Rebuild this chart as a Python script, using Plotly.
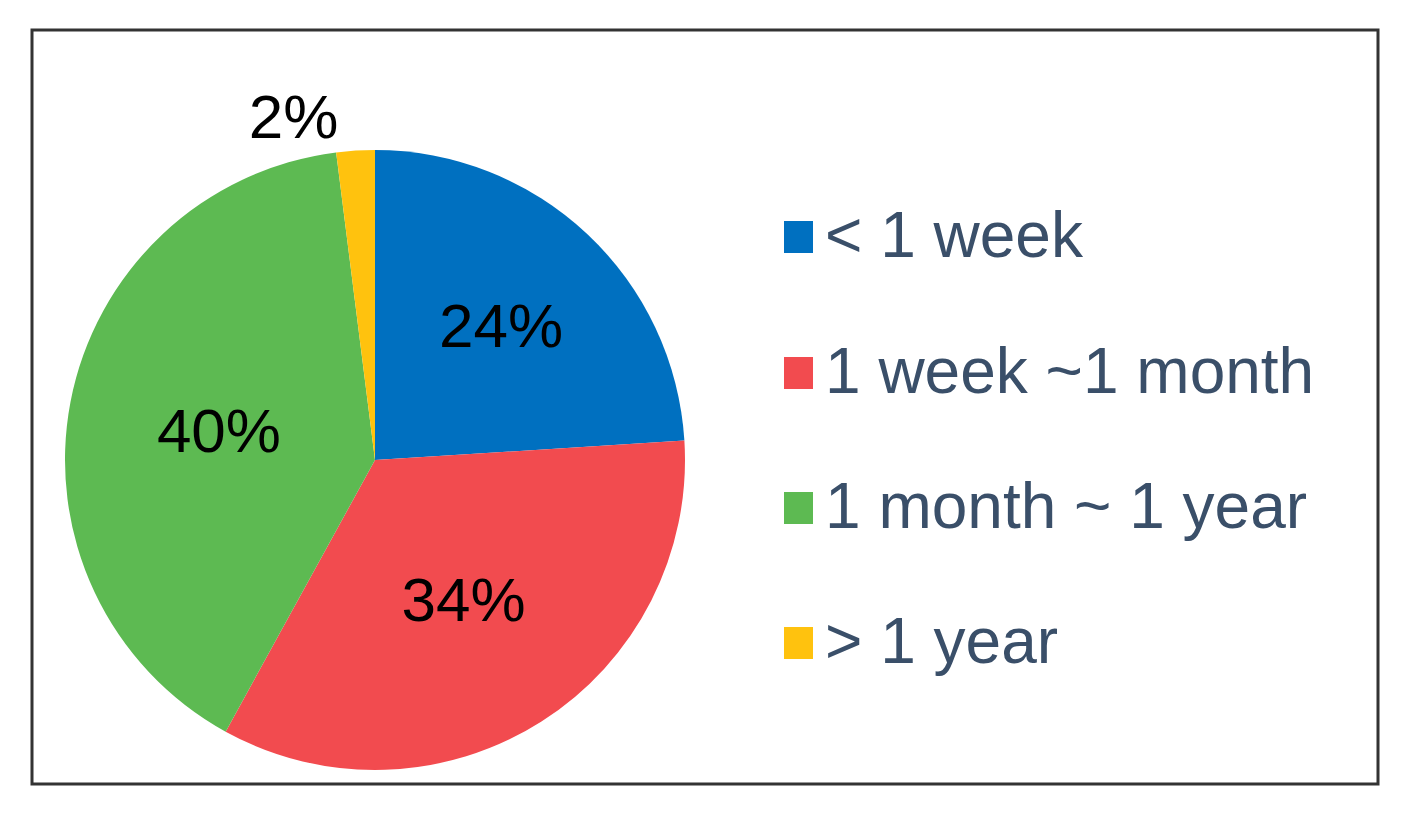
import plotly.graph_objects as go

labels = ["< 1 week", "1 week ~1 month", "1 month ~ 1 year", "> 1 year"]
values = [24, 34, 40, 2]
colors = ["#0070C0", "#F24B4F", "#5DBA52", "#FFC20E"]
text_positions = ["inside", "inside", "inside", "outside"]

W, H = 1411, 819
FONT = "Liberation Sans, Arial, sans-serif"
OFF = 8  # page body margin offset

def px(x):
    return (x - OFF) / W

def py(y):
    return 1 - (y - OFF) / H

cx, cy, r = 375, 460, 310

fig = go.Figure(go.Pie(
    labels=labels,
    values=values,
    sort=False,
    direction="clockwise",
    rotation=0,
    marker=dict(colors=colors, line=dict(width=0)),
    textinfo="percent",
    textposition=text_positions,
    insidetextorientation="horizontal",
    textfont=dict(family=FONT, size=62, color="#000000"),
    domain=dict(x=[px(cx - r), px(cx + r)], y=[py(cy + r), py(cy - r)]),
    showlegend=False,
    hoverinfo="label+percent",
))

shapes = [dict(type="rect", xref="paper", yref="paper",
               x0=px(32), x1=px(1378), y0=py(784), y1=py(30),
               line=dict(color="#333333", width=3))]
annotations = []
row_y = [237, 373, 508, 643]
for lab, col, yy in zip(labels, colors, row_y):
    shapes.append(dict(type="rect", xref="paper", yref="paper",
                       x0=px(784), x1=px(813), y0=py(yy + 16), y1=py(yy - 16),
                       fillcolor=col, line=dict(width=0)))
    annotations.append(dict(text=lab, xref="paper", yref="paper",
                            x=px(823), y=py(yy - 2), xanchor="left", yanchor="middle",
                            showarrow=False,
                            font=dict(family=FONT, size=64, color="#3A4F69")))

fig.update_layout(
    width=W, height=H,
    margin=dict(l=0, r=0, t=0, b=0),
    paper_bgcolor="white",
    plot_bgcolor="white",
    shapes=shapes,
    annotations=annotations,
)

fig.write_html("out.html")
